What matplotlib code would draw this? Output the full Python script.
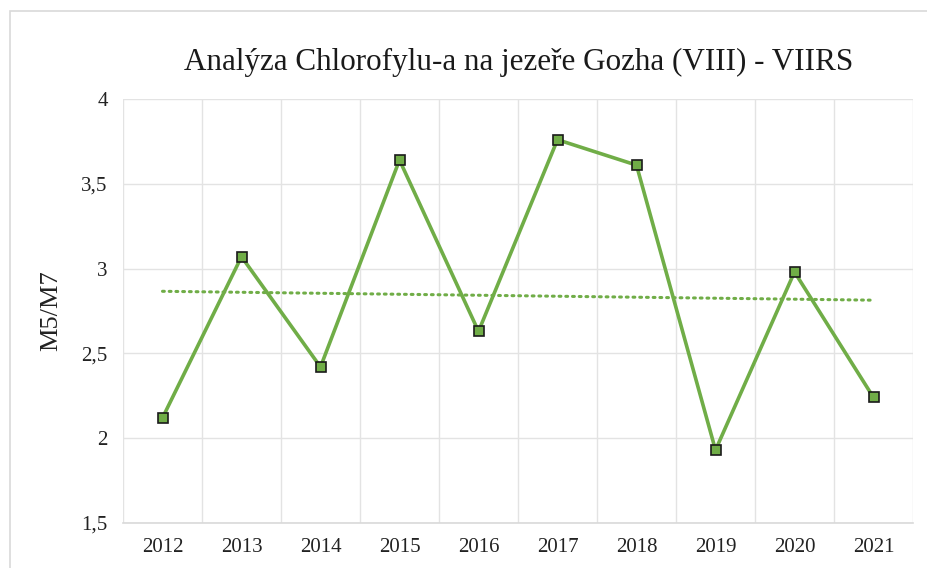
import numpy as np
import matplotlib.pyplot as plt
from matplotlib.patches import Rectangle
from matplotlib.ticker import FuncFormatter

years = ['2012', '2013', '2014', '2015', '2016', '2017', '2018', '2019', '2020', '2021']
values = [2.12, 3.07, 2.42, 3.64, 2.63, 3.76, 3.61, 1.93, 2.98, 2.24]

title = 'Analýza Chlorofylu-a na jezeře Gozha (VIII) - VIIRS'
ylabel = 'M5/M7'

green = '#70AD47'

plt.rcParams['font.family'] = ['Liberation Serif', 'DejaVu Serif']

fig = plt.figure(figsize=(9.28, 5.68), dpi=100)
W, H = 928, 568
ax = fig.add_axes([123 / W, 1 - 523 / H, (913 - 123) / W, (523 - 99) / H])

x = np.arange(len(years))
ax.plot(x, values, color=green, lw=2.6, marker='s', ms=7.5,
        mfc=green, mec='#1a1a1a', mew=1.2, zorder=3)

# linear trend line
k, b = np.polyfit(x, values, 1)
ax.plot(x, k * x + b, color=green, lw=2.2, ls=(0, (0.6, 1.6)),
        dash_capstyle='round', zorder=2)

ax.set_xlim(-0.5, len(years) - 0.5)
ax.set_ylim(1.5, 4)
ax.set_yticks(np.arange(1.5, 4.01, 0.5))
ax.yaxis.set_major_formatter(FuncFormatter(lambda v, p: f'{v:g}'.replace('.', ',')))
ax.set_xticks(x)
ax.set_xticklabels(years)
ax.set_xticks(np.arange(-0.5, len(years), 1), minor=True)

ax.grid(True, which='major', axis='y', color='#e3e3e3', lw=1)
ax.grid(True, which='minor', axis='x', color='#e3e3e3', lw=1)
ax.set_axisbelow(True)
for s in ['top', 'right', 'left']:
    ax.spines[s].set_visible(False)
ax.spines['bottom'].set_color('#d9d9d9')
ax.spines['bottom'].set_linewidth(1.2)
ax.tick_params(axis='both', which='both', length=0, labelsize=15, colors='#222222')
ax.tick_params(axis='x', pad=11)
ax.tick_params(axis='y', pad=11)

ax.set_ylabel(ylabel, fontsize=19, color='#222222', labelpad=14)
fig.text(519 / W, 1 - 62 / H, title, fontsize=22.4, ha='center', va='center', color='#1a1a1a')

fig.patches.append(Rectangle((10 / W, -0.01), 1.0, 1 - 11 / H + 0.01, transform=fig.transFigure,
                             fill=False, edgecolor='#d9d9d9', lw=1.2))

fig.savefig('out.png', dpi=100)
